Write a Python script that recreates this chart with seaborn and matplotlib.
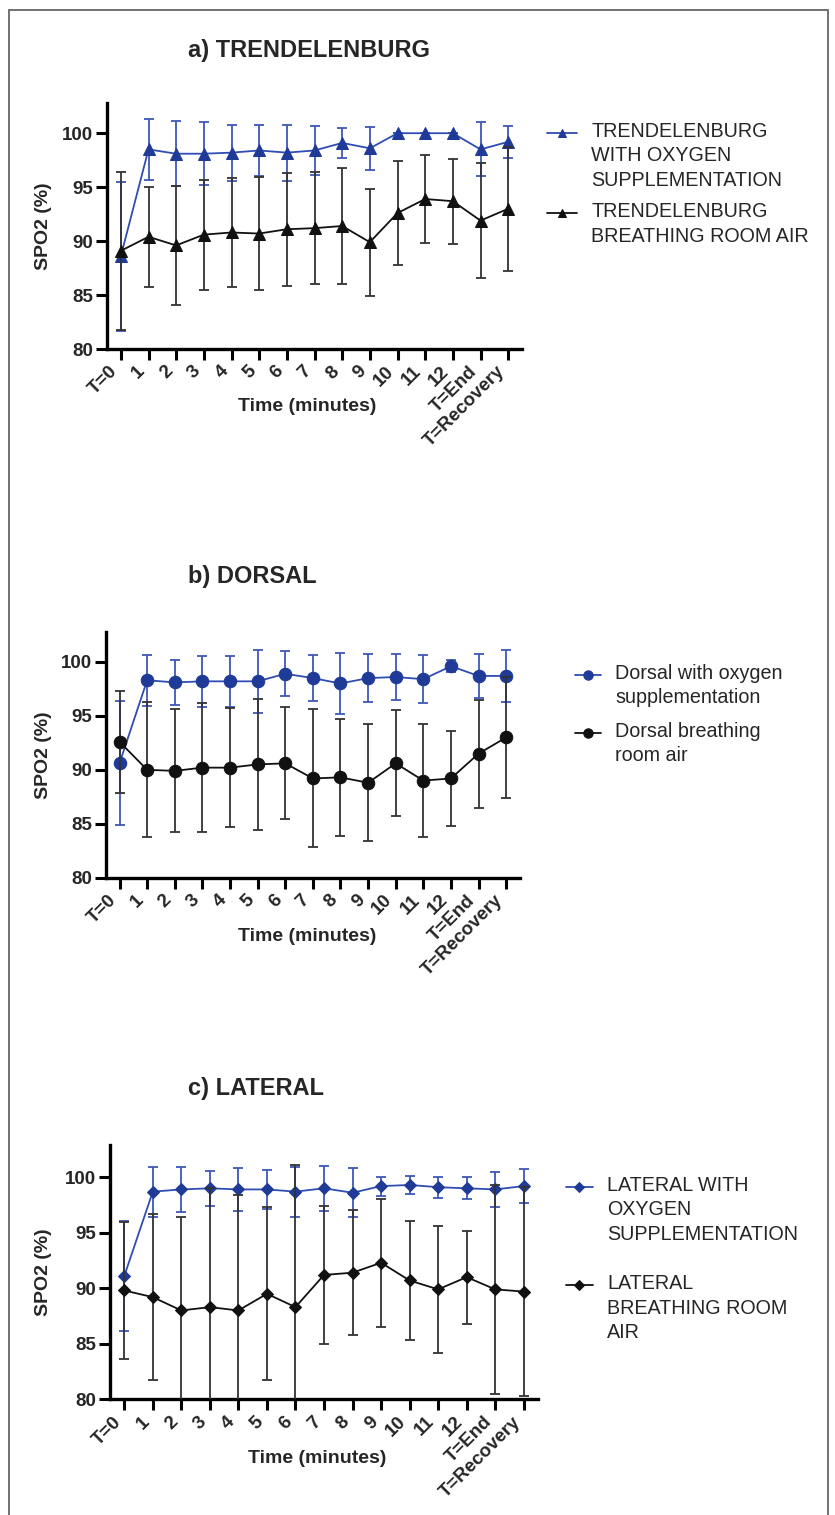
import matplotlib
matplotlib.use("Agg")
import matplotlib.pyplot as plt
import seaborn as sns
import numpy as np
from matplotlib.patches import Rectangle
from matplotlib.legend_handler import HandlerLine2D

# ---------------- data ----------------
time_labels = ["T=0", "1", "2", "3", "4", "5", "6", "7", "8", "9", "10", "11", "12",
               "T=End", "T=Recovery"]

# a) Trendelenburg
trend_oxy_mean = [88.6, 98.5, 98.1, 98.1, 98.2, 98.4, 98.2, 98.4, 99.1, 98.6, 100.0, 100.0, 100.0, 98.5, 99.2]
trend_oxy_sd = [6.9, 2.8, 3.0, 2.9, 2.6, 2.4, 2.6, 2.3, 1.4, 2.0, 0.0, 0.0, 0.0, 2.5, 1.5]
trend_air_mean = [89.1, 90.4, 89.6, 90.6, 90.8, 90.7, 91.1, 91.2, 91.4, 89.9, 92.6, 93.9, 93.7, 91.9, 93.0]
trend_air_sd = [7.3, 4.65, 5.5, 5.1, 5.05, 5.25, 5.25, 5.2, 5.4, 4.95, 4.85, 4.1, 3.95, 5.35, 5.75]

# b) Dorsal
dorsal_oxy_mean = [90.6, 98.3, 98.1, 98.2, 98.2, 98.2, 98.9, 98.5, 98.0, 98.5, 98.6, 98.4, 99.6, 98.7, 98.7]
dorsal_oxy_sd = [5.75, 2.35, 2.1, 2.35, 2.35, 2.9, 2.1, 2.1, 2.85, 2.25, 2.1, 2.25, 0.55, 2.0, 2.4]
dorsal_air_mean = [92.6, 90.0, 89.9, 90.2, 90.2, 90.5, 90.6, 89.2, 89.3, 88.8, 90.6, 89.0, 89.2, 91.5, 93.0]
dorsal_air_sd = [4.75, 6.25, 5.7, 5.95, 5.5, 6.1, 5.2, 6.4, 5.4, 5.4, 4.9, 5.25, 4.4, 5.0, 5.6]

# c) Lateral
lateral_oxy_mean = [91.1, 98.7, 98.9, 99.0, 98.9, 98.9, 98.7, 99.0, 98.6, 99.2, 99.3, 99.1, 99.0, 98.9, 99.2]
lateral_oxy_sd = [4.95, 2.25, 2.0, 1.6, 1.9, 1.75, 2.25, 2.0, 2.2, 0.85, 0.8, 0.95, 1.0, 1.55, 1.5]
lateral_air_mean = [89.8, 89.2, 88.0, 88.3, 88.0, 89.5, 88.3, 91.2, 91.4, 92.3, 90.7, 89.9, 91.0, 89.9, 89.7]
lateral_air_sd = [6.2, 7.45, 8.4, 10.7, 10.4, 7.8, 12.8, 6.2, 5.65, 5.75, 5.4, 5.7, 4.2, 9.4, 9.4]

y_ticks = [80, 85, 90, 95, 100]

panel_titles = ["a) TRENDELENBURG", "b) DORSAL", "c) LATERAL"]
legend_labels = [
    ["TRENDELENBURG\nWITH OXYGEN\nSUPPLEMENTATION", "TRENDELENBURG\nBREATHING ROOM AIR"],
    ["Dorsal with oxygen\nsupplementation", "Dorsal breathing\nroom air"],
    ["LATERAL WITH\nOXYGEN\nSUPPLEMENTATION", "LATERAL\nBREATHING ROOM\nAIR"],
]
y_label = "SPO2 (%)"
x_label = "Time (minutes)"

# ---------------- style ----------------
sns.set_style("ticks")
plt.rcParams["font.family"] = ["Liberation Sans", "DejaVu Sans"]

BLUE_LINE = "#2F4DB2"
BLUE_MARK = "#1F3A97"
BLUE_ERR = "#3D58B8"
BLACK = "#111111"
BLACK_ERR = "#333333"

LEG_FS = 14.2          # points
LINE_STEP_PT = 16.9    # distance between legend text lines, points


class FirstLineHandler(HandlerLine2D):
    """Place the legend handle level with the first line of a multi-line label."""

    def __init__(self, shift_pt, **kw):
        super().__init__(**kw)
        self.shift_pt = shift_pt

    def create_artists(self, legend, orig_handle, xdescent, ydescent, width, height,
                       fontsize, trans):
        return super().create_artists(legend, orig_handle, xdescent,
                                      ydescent - 2 * self.shift_pt, width, height,
                                      fontsize, trans)


W, H = 835, 1515
fig = plt.figure(figsize=(W / 100, H / 100), dpi=100)

# axes rectangles in pixels: left, right, top(y), bottom(y)
rects_px = [(107, 522, 103, 349), (105.7, 520, 631.7, 877.7), (110, 538, 1145, 1399.3)]
ytops = [102.8, 102.8, 102.9]
markers = ["^", "o", "D"]
msizes = [8.5, 9.0, 6.3]
title_y = [50, 576, 1088]
legend_pos = [(547, 122), (575, 664), (566, 1176)]
legend_hl = [1.5, 1.3, 1.35]
legend_sp = [0.64, 0.74, 1.55]
xlabel_pos = [(0.482, -0.232), (0.486, -0.24), (0.485, -0.231)]

series = [
    (trend_oxy_mean, trend_oxy_sd, trend_air_mean, trend_air_sd),
    (dorsal_oxy_mean, dorsal_oxy_sd, dorsal_air_mean, dorsal_air_sd),
    (lateral_oxy_mean, lateral_oxy_sd, lateral_air_mean, lateral_air_sd),
]

x = np.arange(len(time_labels))

for i in range(3):
    l, r, t, b = rects_px[i]
    ax = fig.add_axes([l / W, 1 - b / H, (r - l) / W, (b - t) / H])
    om, osd, am, asd = series[i]

    # error bars
    ax.errorbar(x, om, yerr=osd, fmt="none", ecolor=BLUE_ERR, elinewidth=1.3,
                capsize=3.8, capthick=1.3, zorder=2)
    sns.lineplot(x=x, y=om, ax=ax, color=BLUE_LINE, lw=1.3, marker=markers[i],
                 markersize=msizes[i], markerfacecolor=BLUE_MARK, markeredgecolor=BLUE_MARK,
                 label=legend_labels[i][0], legend=False, zorder=3)
    ax.errorbar(x, am, yerr=asd, fmt="none", ecolor=BLACK_ERR, elinewidth=1.3,
                capsize=3.8, capthick=1.3, zorder=4)
    sns.lineplot(x=x, y=am, ax=ax, color=BLACK, lw=1.3, marker=markers[i],
                 markersize=msizes[i], markerfacecolor=BLACK, markeredgecolor=BLACK,
                 label=legend_labels[i][1], legend=False, zorder=5)

    ax.set_xlim(-0.5, 14.5)
    ax.set_ylim(80, ytops[i])
    ax.set_yticks(y_ticks)
    ax.set_xticks(x)
    ax.set_xticklabels(time_labels, rotation=45, ha="right", rotation_mode="default")
    for sp in ["top", "right"]:
        ax.spines[sp].set_visible(False)
    for sp in ["left", "bottom"]:
        ax.spines[sp].set_linewidth(2.4)
        ax.spines[sp].set_color("black")
    ax.tick_params(axis="both", direction="out", length=8, width=2.2, color="black",
                   labelsize=13.5, pad=2)
    for lab in ax.get_xticklabels() + ax.get_yticklabels():
        lab.set_fontweight("bold")
    ax.set_ylabel(y_label, fontsize=14, fontweight="bold")
    ax.yaxis.set_label_coords((43 - l) / (r - l), 0.5)
    ax.yaxis.label.set_va("center")
    ax.set_xlabel(x_label, fontsize=14, fontweight="bold")
    ax.xaxis.set_label_coords(*xlabel_pos[i])
    ax.xaxis.label.set_va("center")
    ax.grid(False)

    # legend
    lx, ly = legend_pos[i]
    handles = [ln for ln in ax.lines if not ln.get_label().startswith("_")]
    hmap = {}
    for h, lab in zip(handles, legend_labels[i]):
        n = lab.count("\n") + 1
        hmap[h] = FirstLineHandler((n - 1) / 2 * LINE_STEP_PT)
    leg = ax.legend(handles=handles, labels=legend_labels[i], loc="upper left",
                    bbox_to_anchor=(lx / W, 1 - ly / H), bbox_transform=fig.transFigure,
                    frameon=False, fontsize=LEG_FS, borderpad=0, borderaxespad=0,
                    handlelength=legend_hl[i], handletextpad=0.75,
                    labelspacing=legend_sp[i], markerscale=0.75, handler_map=hmap)
    for txt in leg.get_texts():
        txt.set_linespacing(1.36)

    fig.text(188 / W, 1 - title_y[i] / H, panel_titles[i], ha="left", va="center",
             fontsize=17, fontweight="bold")

# outer frame
fig.patches.append(Rectangle((9 / W, -0.01), (828 - 9) / W, 1.01 - 10 / H,
                             transform=fig.transFigure, fill=False,
                             edgecolor="#666666", linewidth=1.3))

fig.savefig("out.png", dpi=100)
